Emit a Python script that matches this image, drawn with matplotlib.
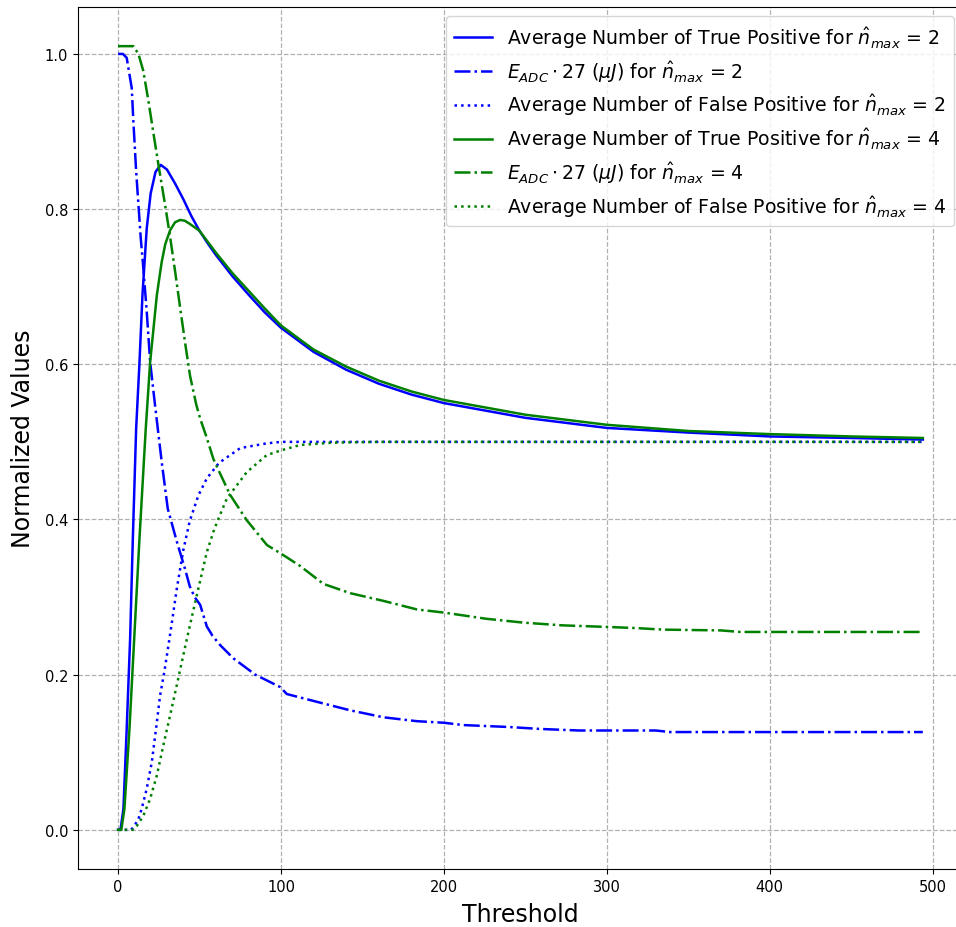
import numpy as np
import matplotlib
matplotlib.use("Agg")
import matplotlib.pyplot as plt

# values
# true positives, n_max = 2
tp2_x = [0, 1.5, 3.3, 5.3, 7.4, 9, 11.1, 13.1, 15, 17.6, 20, 23, 26.2, 30, 35, 40, 45,
         50, 55, 60, 70, 80, 90, 100, 120, 140, 160, 180, 200, 250, 300, 350, 400, 450, 494]
tp2_y = [0, 0, 0.027, 0.13, 0.246, 0.37, 0.517, 0.60, 0.69, 0.775, 0.82, 0.848, 0.857,
         0.851, 0.833, 0.813, 0.791, 0.772, 0.756, 0.741, 0.714, 0.69, 0.667, 0.647,
         0.616, 0.593, 0.575, 0.561, 0.55, 0.531, 0.518, 0.512, 0.507, 0.505, 0.503]

# true positives, n_max = 4
tp4_x = [0, 2, 3.9, 7, 10, 13, 17, 19.7, 23.8, 26.8, 29, 32, 35, 38, 41, 44, 50, 60, 70,
         80, 90, 100, 120, 140, 160, 180, 200, 250, 300, 350, 400, 450, 494]
tp4_y = [0, 0, 0.027, 0.13, 0.25, 0.37, 0.517, 0.603, 0.689, 0.732, 0.755, 0.773, 0.783,
         0.786, 0.785, 0.781, 0.772, 0.744, 0.718, 0.695, 0.672, 0.65, 0.619, 0.597,
         0.579, 0.565, 0.554, 0.535, 0.522, 0.514, 0.51, 0.507, 0.505]

# E_ADC * 27, n_max = 2
e2_x = [0, 3, 5.3, 8.4, 9.4, 11.1, 12.5, 13.9, 15.2, 17.6, 19.7, 22, 24.5, 26.8, 30.5,
        36, 41, 44, 47, 50.4, 54.5, 58, 62.7, 70.8, 84.2, 99.5, 103.6, 122, 142.5, 163,
        183.5, 200, 212, 240, 259, 283, 330, 339, 494]
e2_y = [1.0, 1.0, 0.995, 0.956, 0.913, 0.849, 0.806, 0.763, 0.732, 0.668, 0.603, 0.56,
        0.515, 0.474, 0.414, 0.372, 0.337, 0.314, 0.30, 0.29, 0.262, 0.25, 0.238, 0.221,
        0.2, 0.184, 0.175, 0.165, 0.154, 0.145, 0.14, 0.138, 0.135, 0.1325, 0.13, 0.128,
        0.128, 0.126, 0.126]

# E_ADC * 27, n_max = 4
e4_x = [0, 9.4, 12.5, 15.5, 18.6, 21.7, 24.8, 28.9, 31.9, 35, 38.1, 41.2, 44.2, 48,
        50.4, 54.5, 58.5, 62, 68.7, 79, 91.4, 100, 111.8, 126, 142.5, 163, 183.5, 200,
        226, 249, 273, 300, 318, 335, 370, 382, 494]
e4_y = [1.01, 1.01, 1.0, 0.978, 0.94, 0.898, 0.857, 0.805, 0.765, 0.72, 0.673, 0.627,
        0.585, 0.548, 0.53, 0.505, 0.478, 0.462, 0.432, 0.399, 0.367, 0.356, 0.34,
        0.317, 0.305, 0.295, 0.284, 0.28, 0.272, 0.267, 0.2635, 0.2615, 0.26, 0.258,
        0.257, 0.255, 0.255]

# false positives, n_max = 2
fp2_x = [0, 8, 10, 12.5, 14.5, 17.6, 20.7, 23.3, 25.8, 28.5, 30.5, 32.4, 36, 40, 44,
         49.3, 54.5, 62, 75, 91, 100, 494]
fp2_y = [0, 0, 0.005, 0.014, 0.027, 0.053, 0.087, 0.13, 0.173, 0.205, 0.232, 0.258,
         0.31, 0.36, 0.398, 0.431, 0.453, 0.473, 0.492, 0.498, 0.5, 0.5]

# false positives, n_max = 4
fp4_x = [0, 9, 11.5, 15.5, 19.7, 23.8, 27.8, 31.9, 36, 39.1, 43.2, 48.3, 54.5, 58.5,
         61.6, 66.8, 79, 91.3, 100, 111.8, 132, 160, 494]
fp4_y = [0, 0, 0.005, 0.018, 0.04, 0.07, 0.109, 0.147, 0.186, 0.216, 0.255, 0.302,
         0.358, 0.384, 0.401, 0.427, 0.461, 0.483, 0.489, 0.496, 0.499, 0.5, 0.5]

labels = [
    r'Average Number of True Positive for $\hat{n}_{max}$ = 2',
    r'$E_{ADC} \cdot 27$ ($\mu J$) for $\hat{n}_{max}$ = 2',
    r'Average Number of False Positive for $\hat{n}_{max}$ = 2',
    r'Average Number of True Positive for $\hat{n}_{max}$ = 4',
    r'$E_{ADC} \cdot 27$ ($\mu J$) for $\hat{n}_{max}$ = 4',
    r'Average Number of False Positive for $\hat{n}_{max}$ = 4',
]

fig = plt.figure(figsize=(9.56, 9.28), dpi=100)
ax = fig.add_axes([0.0814, 0.0625, 0.926, 0.9289])

lw = 1.8
ax.plot(tp2_x, tp2_y, color="blue", linestyle="-", lw=lw, label=labels[0])
ax.plot(e2_x, e2_y, color="blue", linestyle="-.", lw=lw, label=labels[1])
ax.plot(fp2_x, fp2_y, color="blue", linestyle=":", lw=lw, label=labels[2])
ax.plot(tp4_x, tp4_y, color="green", linestyle="-", lw=lw, label=labels[3])
ax.plot(e4_x, e4_y, color="green", linestyle="-.", lw=lw, label=labels[4])
ax.plot(fp4_x, fp4_y, color="green", linestyle=":", lw=lw, label=labels[5])

ax.grid(True, linestyle="--", color="#b0b0b0", lw=0.9)
ax.tick_params(labelsize=10.5)
ax.set_xlabel("Threshold", fontsize=17, labelpad=6)
ax.set_ylabel("Normalized Values", fontsize=17, labelpad=7)
ax.legend(loc="upper right", fontsize=13.6, labelspacing=0.42)

fig.savefig("out.png", dpi=100)
